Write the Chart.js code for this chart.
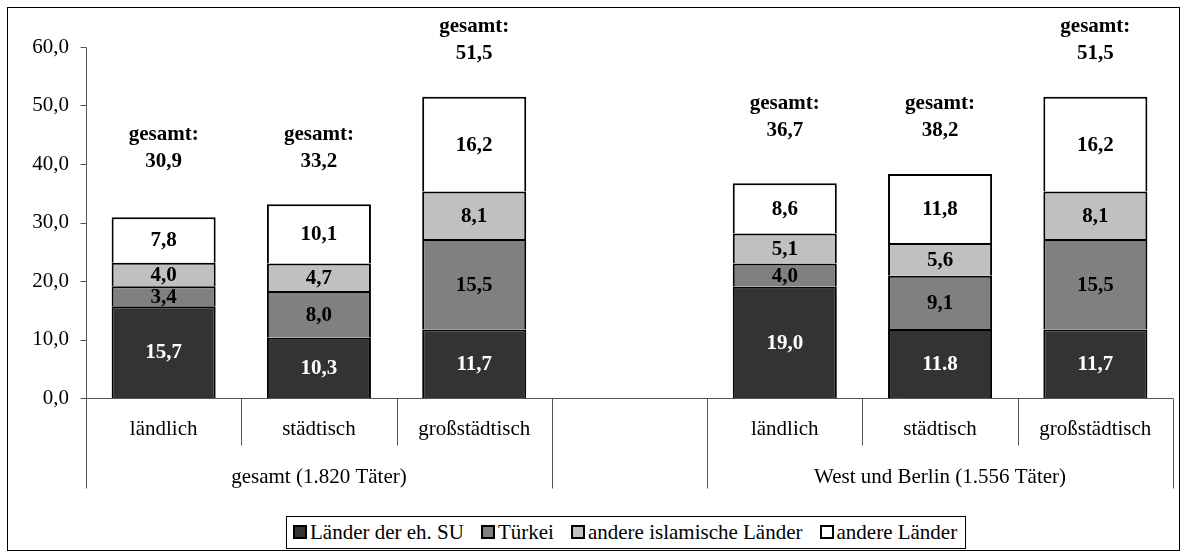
<!DOCTYPE html>
<html>
<head>
<meta charset="utf-8">
<script src="https://cdn.jsdelivr.net/npm/chart.js@4.4.1/dist/chart.umd.min.js"></script>
<style>
  body { margin: 0; background: #fff; }
  #frame { position: absolute; left: 7px; top: 7px; width: 1171px; height: 542px; border: 1px solid #000; }
  #chart { position: absolute; left: 0; top: 0; }
  #legend { position: absolute; left: 278px; top: 508px; height: 33px; box-sizing: border-box; border: 1px solid #000; background: #fff;
            padding: 0 8px 2px 6px; font-size: 21px; line-height: 24px; display: flex; align-items: center; white-space: nowrap;
            font-family: 'Liberation Serif', 'Times New Roman', serif; }
  #legend .item { display: flex; align-items: center; margin-right: 17px; }
  #legend .item:last-child { margin-right: 0; }
  #legend .swatch { width: 10px; height: 10px; border: 2px solid #000; margin-right: 3px; }
</style>
</head>
<body>
<div id="frame">
  <canvas id="chart" width="1171" height="542"></canvas>
  <div id="legend"></div>
</div>
<script>
// categories: 3 regions per group, one empty spacer in between
const categories = ['ländlich', 'städtisch', 'großstädtisch', '', 'ländlich', 'städtisch', 'großstädtisch'];
const groups = [
  { label: 'gesamt (1.820 Täter)', from: 0, to: 2 },
  { label: 'West und Berlin (1.556 Täter)', from: 4, to: 6 }
];

// series values (percent)
const suValues      = [15.7, 10.3, 11.7, null, 19.0, 11.8, 11.7];
const tuerkeiValues = [3.4, 8.0, 15.5, null, 4.0, 9.1, 15.5];
const islamValues   = [4.0, 4.7, 8.1, null, 5.1, 5.6, 8.1];
const andereValues  = [7.8, 10.1, 16.2, null, 8.6, 11.8, 16.2];
const totals        = [30.9, 33.2, 51.5, null, 36.7, 38.2, 51.5];

// label of the SU segment as printed (one uses a dot)
const suLabelText = ['15,7', '10,3', '11,7', '', '19,0', '11.8', '11,7'];

const yTicks = { min: 0, max: 60, step: 10 };

const FONT = "'Liberation Serif', 'Times New Roman', serif";
const fmt = v => v.toFixed(1).replace('.', ',');

Chart.defaults.font.family = FONT;
Chart.defaults.font.size = 21;
Chart.defaults.color = '#000';

// draws values inside the segments and the "gesamt" totals above
const valueLabels = {
  id: 'valueLabels',
  afterDatasetsDraw(chart) {
    const ctx = chart.ctx;
    ctx.save();
    ctx.font = 'bold 21px ' + FONT;
    ctx.textAlign = 'center';
    ctx.textBaseline = 'middle';
    chart.data.datasets.forEach((ds, i) => {
      chart.getDatasetMeta(i).data.forEach((bar, j) => {
        const v = ds.data[j];
        if (v == null) return;
        const text = i === 0 ? suLabelText[j] : fmt(v);
        ctx.fillStyle = i === 0 ? '#fff' : '#000';
        ctx.fillText(text, bar.x, (bar.y + bar.base) / 2 + 1);
      });
    });
    // neighbouring bars with similar totals share one label row
    const topMeta = chart.getDatasetMeta(chart.data.datasets.length - 1);
    totals.forEach((t, j) => {
      if (t == null) return;
      let rowTop = topMeta.data[j].y;
      [j - 1, j + 1].forEach(k => {
        if (totals[k] != null && Math.abs(totals[k] - t) < 5) rowTop = Math.min(rowTop, topMeta.data[k].y);
      });
      const x = topMeta.data[j].x;
      ctx.fillStyle = '#000';
      ctx.fillText('gesamt:', x, rowTop - 70);
      ctx.fillText(fmt(t), x, rowTop - 43);
    });
    ctx.restore();
  }
};

// axis lines, second axis row: dividers and group names
const groupAxis = {
  id: 'groupAxis',
  afterDraw(chart) {
    const x = chart.scales.x;
    const y = chart.scales.y;
    const ctx = chart.ctx;
    const half = (x.getPixelForValue(1) - x.getPixelForValue(0)) / 2;
    const top = Math.round(y.getPixelForValue(0)) + 0.5;
    const axisX = Math.round(chart.chartArea.left) + 0.5;
    const longEdges = new Set();
    groups.forEach(g => { longEdges.add(g.from); longEdges.add(g.to + 1); });
    ctx.save();
    ctx.strokeStyle = '#555';
    ctx.lineWidth = 1;
    // y axis with outside ticks
    ctx.beginPath();
    ctx.moveTo(axisX, Math.round(y.getPixelForValue(yTicks.max)) + 0.5);
    ctx.lineTo(axisX, top);
    y.ticks.forEach(t => {
      const py = Math.round(y.getPixelForValue(t.value)) + 0.5;
      ctx.moveTo(axisX - 6, py);
      ctx.lineTo(axisX, py);
    });
    // baseline
    ctx.moveTo(axisX, top);
    ctx.lineTo(chart.chartArea.right, top);
    ctx.stroke();
    // category dividers
    for (let i = 0; i <= categories.length; i++) {
      const px = Math.round(x.getPixelForValue(0) - half + i * half * 2) + 0.5;
      const len = longEdges.has(i) ? 90 : 47;
      ctx.beginPath();
      ctx.moveTo(px, top);
      ctx.lineTo(px, top + len);
      ctx.stroke();
    }
    ctx.fillStyle = '#000';
    ctx.font = '21px ' + FONT;
    ctx.textAlign = 'center';
    ctx.textBaseline = 'middle';
    groups.forEach(g => {
      const cx = (x.getPixelForValue(g.from) + x.getPixelForValue(g.to)) / 2;
      ctx.fillText(g.label, cx, top + 79);
    });
    ctx.restore();
  }
};

const seriesStyle = [
  { label: 'Länder der eh. SU', data: suValues, color: '#333333' },
  { label: 'Türkei', data: tuerkeiValues, color: '#808080' },
  { label: 'andere islamische Länder', data: islamValues, color: '#c0c0c0' },
  { label: 'andere Länder', data: andereValues, color: '#ffffff' }
];

const chart = new Chart(document.getElementById('chart'), {
  type: 'bar',
  data: {
    labels: categories,
    datasets: seriesStyle.map(s => ({
      label: s.label,
      data: s.data,
      backgroundColor: s.color,
      borderColor: '#000',
      borderWidth: 2,
      borderSkipped: 'start',
      barPercentage: 0.67,
      categoryPercentage: 1
    }))
  },
  options: {
    responsive: false,
    animation: false,
    layout: { padding: { top: 39, right: 6, left: 0, bottom: 0 } },
    plugins: {
      legend: { display: false },
      tooltip: { enabled: false }
    },
    scales: {
      x: {
        stacked: true,
        grid: { display: false, drawTicks: false },
        border: { display: false },
        ticks: { padding: 19, maxRotation: 0, autoSkip: false },
        afterFit: scale => { scale.height = 152; }
      },
      y: {
        stacked: true,
        min: yTicks.min,
        max: yTicks.max,
        grid: { display: false, drawTicks: false },
        border: { display: false },
        ticks: { stepSize: yTicks.step, padding: 17, callback: v => fmt(v) },
        afterFit: scale => { scale.width = 78; }
      }
    }
  },
  plugins: [valueLabels, groupAxis]
});

// legend box
const legend = document.getElementById('legend');
chart.data.datasets.forEach(ds => {
  const item = document.createElement('div');
  item.className = 'item';
  const sw = document.createElement('span');
  sw.className = 'swatch';
  sw.style.background = ds.backgroundColor;
  item.appendChild(sw);
  item.appendChild(document.createTextNode(ds.label));
  legend.appendChild(item);
});
</script>
</body>
</html>
